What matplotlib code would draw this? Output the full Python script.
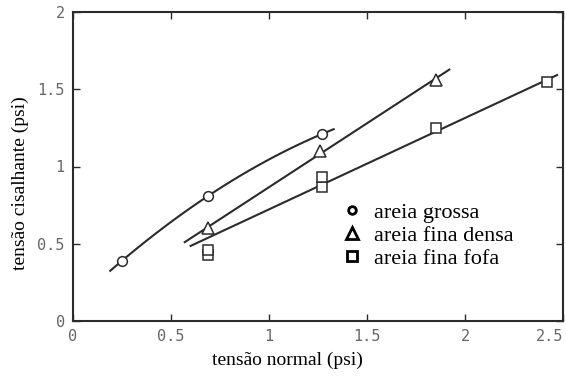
import matplotlib.pyplot as plt
import numpy as np

# measured points (tensao normal, tensao cisalhante), psi
grossa_x = [0.25, 0.69, 1.27]
grossa_y = [0.39, 0.81, 1.21]
densa_x = [0.69, 1.26, 1.85]
densa_y = [0.60, 1.10, 1.56]
fofa_x = [0.69, 0.69, 1.27, 1.27, 1.85, 2.42]
fofa_y = [0.43, 0.46, 0.87, 0.93, 1.25, 1.55]

# which points each drawn curve was fitted to
grossa_fit = [0, 1, 2]
densa_fit = [0, 1, 2]
fofa_fit = [2, 4, 5]

# x-range covered by each fitted curve
grossa_range = [0.19, 1.33]
densa_range = [0.57, 1.92]
fofa_range = [0.60, 2.47]

labels = ["areia grossa", "areia fina densa", "areia fina fofa"]
xticks = [0, 0.5, 1, 1.5, 2, 2.5]
yticks = [0, 0.5, 1, 1.5, 2]

INK = "#2b2b2b"
serif = "Liberation Serif"

fig = plt.figure(figsize=(5.66, 3.77), dpi=100)
ax = fig.add_axes([73 / 566, 1 - 321 / 377, 490 / 566, 309 / 377])

series = [
    (grossa_x, grossa_y, grossa_fit, grossa_range, 2, "o", 7),
    (densa_x, densa_y, densa_fit, densa_range, 1, "^", 9),
    (fofa_x, fofa_y, fofa_fit, fofa_range, 1, "s", 7),
]
for xs, ys, idx, rng, deg, mk, ms in series:
    xs, ys = np.array(xs), np.array(ys)
    coef = np.polyfit(xs[idx], ys[idx], deg)
    xx = np.linspace(rng[0], rng[1], 100)
    ax.plot(xx, np.polyval(coef, xx), color=INK, lw=1.5, zorder=2)
    ax.plot(xs, ys, ls="none", marker=mk, ms=ms, mfc="white",
            mec=INK, mew=1.1, zorder=3)

# legend (markers only)
handles = [
    plt.Line2D([], [], ls="none", marker=m, ms=s, mfc="white", mec="black", mew=2)
    for m, s in [("o", 5.5), ("^", 8), ("s", 6.5)]
]
ax.legend(handles, labels, loc="upper left", bbox_to_anchor=(0.551, 0.385),
          frameon=False, prop={"family": serif, "size": 16},
          handletextpad=0.6, labelspacing=0.12, handlelength=0.8,
          borderpad=0, borderaxespad=0)

ax.set_xlim(0, 2.49)
ax.set_ylim(0, 2)
ax.set_xticks(xticks)
ax.set_xticklabels([f"{t:g}" for t in xticks])
ax.set_yticks(yticks)
ax.set_yticklabels([f"{t:g}" for t in yticks])
ax.tick_params(direction="in", top=True, right=True, length=5, width=1,
               color=INK, labelsize=11, labelcolor="#666666", pad=6)
for lab in ax.get_xticklabels() + ax.get_yticklabels():
    lab.set_family("DejaVu Sans Mono")
ax.get_xticklabels()[-1].set_horizontalalignment("right")
for sp in ax.spines.values():
    sp.set_color(INK)
    sp.set_linewidth(1.5)

ax.set_xlabel("tensão normal (psi)", family=serif, size=14, labelpad=6)
ax.xaxis.set_label_coords(0.437, -0.1)
ax.set_ylabel("tensão cisalhante (psi)", family=serif, size=14, labelpad=6)
ax.yaxis.set_label_coords(-0.09, 0.445)

fig.savefig("out.png", dpi=100)
